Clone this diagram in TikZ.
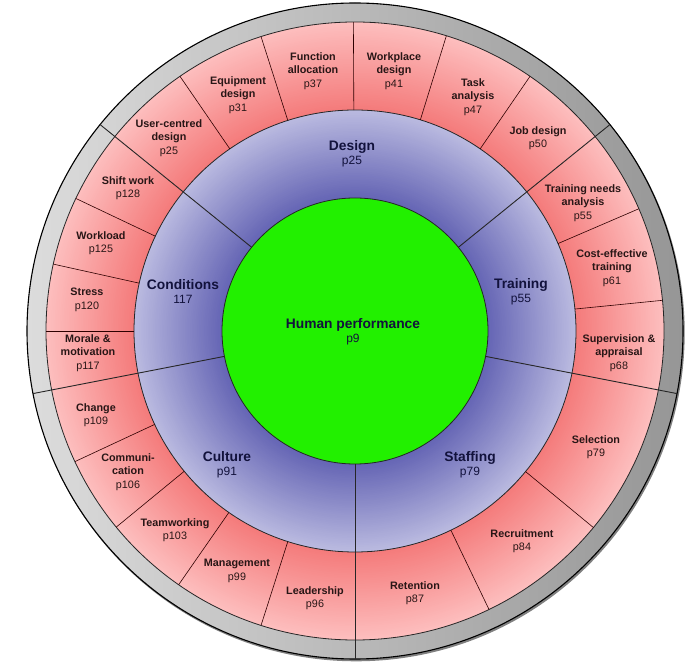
\documentclass[tikz,border=0pt]{standalone}
\usepackage{fontspec}
\setmainfont{Liberation Sans}
\usetikzlibrary{calc}
\definecolor{hpgreen}{RGB}{34,240,0}
\definecolor{blueinner}{RGB}{100,100,180}
\definecolor{blueouter}{RGB}{186,186,224}
\definecolor{pinkinner}{RGB}{244,122,122}
\definecolor{pinkouter}{RGB}{253,190,190}
\definecolor{graylt}{RGB}{220,220,220}
\definecolor{graydk}{RGB}{150,150,150}
\definecolor{pinktext}{RGB}{40,22,22}
\definecolor{bluetext}{RGB}{18,18,60}
\begin{document}
\begin{tikzpicture}[x=1pt,y=1pt,
  pinklbl/.style={align=center,inner sep=0pt,text=pinktext,font=\bfseries\fontsize{10.8}{13.5}\selectfont},
  bluelbl/.style={align=center,inner sep=0pt,text=bluetext,font=\bfseries\fontsize{13.8}{15}\selectfont},
  majorline/.style={draw=black!85,line width=0.9pt},
  subline/.style={draw=black!70!red!60!black,line width=0.6pt},
  ringedge/.style={draw=black!85,line width=0.8pt}]
\useasboundingbox (0,0) rectangle (697,662);
\fill[white] (0,0) rectangle (697,662);
\coordinate (O) at (355,331);
% shadow and outer grey ring
\fill[black!50] ($(O)+(1.2,-1.8)$) circle (328.5pt);
\shade[left color=graylt,right color=graydk] (O) circle (328pt);
% pink ring (radial steps)
\foreach \i in {0,...,50}{
  \pgfmathsetmacro\rr{309-\i*88/50}
  \pgfmathtruncatemacro\pp{2*\i}
  \fill[pinkinner!\pp!pinkouter] (O) circle (\rr pt);
}
% blue ring (radial steps)
\foreach \i in {0,...,50}{
  \pgfmathsetmacro\rr{221-\i*88/50}
  \pgfmathtruncatemacro\pp{2*\i}
  \fill[blueinner!\pp!blueouter] (O) circle (\rr pt);
}
\fill[hpgreen] (O) circle (133pt);
\draw[draw=black,line width=1.1pt] (O) circle (328pt);
\draw[ringedge] (O) circle (309pt);
\draw[ringedge] (O) circle (221pt);
\draw[ringedge] (O) circle (133pt);
% major dividers
\foreach \a in {39,141,191,270,349}
  \draw[majorline,shift={(O)}] (\a:133pt) -- (\a:328pt);
% sub dividers
\foreach \a in {124.5,107.7,90.3,72.8,55.5,23.3,5.7,295.7,320.5,205,219.4,235.2,252.3,154.6,167.5,180}
  \draw[subline,shift={(O)}] (\a:221pt) -- (\a:309pt);
% centre
\node[bluelbl] (hp) at (353,330) {Human performance\\[-1pt]{\mdseries\fontsize{12}{14}\selectfont p9}};
% blue labels
\node[bluelbl] (design) at (352,508) {Design\\[-1pt]{\mdseries\fontsize{12}{14}\selectfont p25}};
\node[bluelbl] (training) at (521,370) {Training\\[-1pt]{\mdseries\fontsize{12}{14}\selectfont p55}};
\node[bluelbl] (staffing) at (470,197) {Staffing\\[-1pt]{\mdseries\fontsize{12}{14}\selectfont p79}};
\node[bluelbl] (culture) at (227,197) {Culture\\[-1pt]{\mdseries\fontsize{12}{14}\selectfont p91}};
\node[bluelbl] (conditions) at (183,370) {Conditions\\[-1pt]{\mdseries\fontsize{12}{14}\selectfont 117}};
% pink labels
\node[pinklbl] (uc) at (169,524) {User-centred\\design\\{\mdseries p25}};
\node[pinklbl] (eq) at (238,567) {Equipment\\design\\{\mdseries p31}};
\node[pinklbl] (fa) at (313,591) {Function\\allocation\\{\mdseries p37}};
\node[pinklbl] (wd) at (394,591) {Workplace\\design\\{\mdseries p41}};
\node[pinklbl] (ta) at (473,565) {Task\\analysis\\{\mdseries p47}};
\node[pinklbl] (jd) at (538,524) {Job design\\{\mdseries p50}};
\node[pinklbl] (tna) at (583,459) {Training needs\\analysis\\{\mdseries p55}};
\node[pinklbl] (cet) at (612,394) {Cost-effective\\training\\{\mdseries p61}};
\node[pinklbl] (sa) at (619,309) {Supervision \&\\appraisal\\{\mdseries p68}};
\node[pinklbl] (sel) at (596,215) {Selection\\{\mdseries p79}};
\node[pinklbl] (rec) at (522,121) {Recruitment\\{\mdseries p84}};
\node[pinklbl] (ret) at (415,69) {Retention\\{\mdseries p87}};
\node[pinklbl] (lea) at (315,64) {Leadership\\{\mdseries p96}};
\node[pinklbl] (man) at (237,91) {Management\\{\mdseries p99}};
\node[pinklbl] (tea) at (175,132) {Teamworking\\{\mdseries p103}};
\node[pinklbl] (com) at (128,190) {Communi-\\cation\\{\mdseries p106}};
\node[pinklbl] (cha) at (96,247) {Change\\{\mdseries p109}};
\node[pinklbl] (mor) at (88,309) {Morale \&\\motivation\\{\mdseries p117}};
\node[pinklbl] (str) at (87,362) {Stress\\{\mdseries p120}};
\node[pinklbl] (wl) at (101,419) {Workload\\{\mdseries p125}};
\node[pinklbl] (sw) at (128,474) {Shift work\\{\mdseries p128}};
\end{tikzpicture}
\end{document}
